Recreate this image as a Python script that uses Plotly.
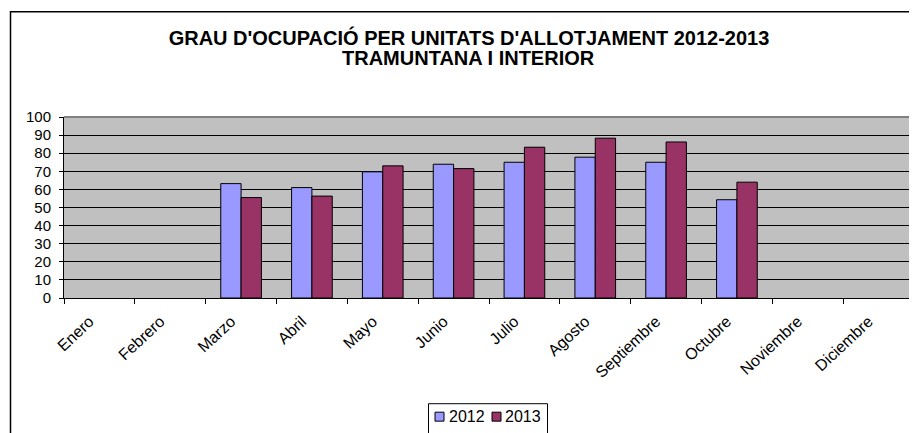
import plotly.graph_objects as go

months = ["Enero", "Febrero", "Marzo", "Abril", "Mayo", "Junio", "Julio",
          "Agosto", "Septiembre", "Octubre", "Noviembre", "Diciembre"]
occ_2012 = [None, None, 63.2, 61.0, 69.7, 73.9, 75.0, 77.8, 75.0, 54.3, None, None]
occ_2013 = [None, None, 55.5, 56.3, 73.0, 71.5, 83.3, 88.3, 86.2, 64.0, None, None]
y_ticks = [0, 10, 20, 30, 40, 50, 60, 70, 80, 90, 100]
series_names = ["2012", "2013"]
series_colors = ["#9999FF", "#993366"]
title_line1 = "GRAU D'OCUPACIÓ PER UNITATS D'ALLOTJAMENT 2012-2013"
title_line2 = "TRAMUNTANA I INTERIOR"

# the page body has an 8px margin: work in window pixels, convert to figure pixels
OFF = 8
W, H = 917, 433
PL, PR, PT, PB = 64, 914, 117, 298.5          # plot area in window pixels
L, T = PL - OFF, PT - OFF
R, B = W - (PR - OFF), H - (PB - OFF)
pw, ph = W - L - R, H - T - B

def vx(p):
    return (p - PL) / pw

def vy(p):
    return (PB - p) / ph

FONT = "Liberation Sans, Arial, sans-serif"

fig = go.Figure()
for name, vals, col in zip(series_names, [occ_2012, occ_2013], series_colors):
    fig.add_trace(go.Bar(x=months, y=vals, name=name, showlegend=False,
                         marker=dict(color=col, line=dict(color="black", width=1))))

fig.update_layout(
    width=W, height=H,
    margin=dict(l=L, r=R, t=T, b=B, pad=0, autoexpand=False),
    paper_bgcolor="white",
    plot_bgcolor="#C0C0C0",
    barmode="group", bargap=0.426, bargroupgap=0,
    font=dict(family=FONT, color="black", size=15),
    title=dict(text="<b>" + title_line1 + "</b>",
               x=(469 - OFF) / W, xanchor="center",
               y=1 - (45 - OFF) / H, yanchor="bottom", yref="container",
               font=dict(family=FONT, size=20, color="black")),
    showlegend=False,
)
fig.add_annotation(text="<b>" + title_line2 + "</b>", xref="paper", yref="paper",
                   x=vx(468), y=vy(70), xanchor="center", yanchor="bottom",
                   showarrow=False, borderpad=0,
                   font=dict(family=FONT, size=20, color="black"))

fig.update_xaxes(
    type="category", tickangle=-43, tickson="boundaries",
    ticks="outside", ticklen=5, tickcolor="black",
    showline=True, linecolor="black", linewidth=1,
    showgrid=False, tickfont=dict(family=FONT, size=16),
    ticklabelstandoff=7, ticklabelshift=-10,
)
fig.update_yaxes(
    range=[0, 100], tickvals=y_ticks, ticks="outside", ticklen=4, tickcolor="black",
    showline=True, linecolor="black", linewidth=1,
    showgrid=True, gridcolor="black", gridwidth=1, zeroline=False,
    tickfont=dict(family=FONT, size=15), ticklabelstandoff=5,
)

# plot-area top/right border (gray) and outer chart frame
fig.add_shape(type="line", xref="paper", yref="paper", x0=0, x1=1, y0=1, y1=1,
              line=dict(color="#808080", width=2))
fig.add_shape(type="line", xref="paper", yref="paper", x0=1, x1=1, y0=0, y1=1,
              line=dict(color="#808080", width=1))
fig.add_shape(type="rect", xref="paper", yref="paper",
              x0=vx(10.5), x1=vx(W + 30), y0=vy(H + 30), y1=vy(11.5),
              line=dict(color="black", width=1.5), fillcolor="rgba(0,0,0,0)")

# legend box (drawn as in the reference: small squares + labels)
fig.add_shape(type="rect", xref="paper", yref="paper",
              x0=vx(428.5), x1=vx(547.5), y0=vy(H + 20), y1=vy(404.5),
              line=dict(color="black", width=1), fillcolor="white")
leg_sq_x = [435, 492]
leg_tx_x = [447, 503]
for name, col, sx, tx in zip(series_names, series_colors, leg_sq_x, leg_tx_x):
    fig.add_shape(type="rect", xref="paper", yref="paper",
                  x0=vx(sx), x1=vx(sx + 9), y0=vy(422), y1=vy(413),
                  line=dict(color="black", width=1), fillcolor=col)
    fig.add_annotation(text=name, xref="paper", yref="paper",
                       x=vx(tx), y=vy(417), xanchor="left", yanchor="middle",
                       showarrow=False, font=dict(family=FONT, size=16, color="black"))

fig.write_html("out.html")
